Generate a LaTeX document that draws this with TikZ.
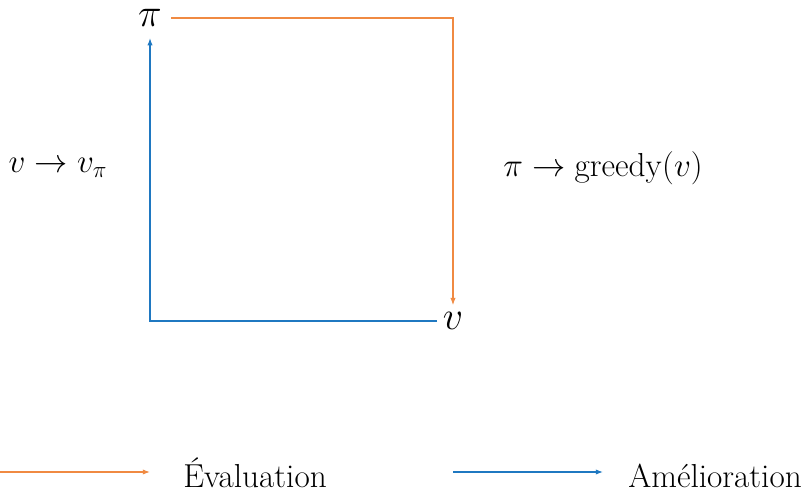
\documentclass[tikz,border=0pt]{standalone}
\usetikzlibrary{arrows.meta}
\definecolor{EvalOrange}{HTML}{F08A42}
\definecolor{AmelBlue}{HTML}{1F78C1}

\tikzset{
  flow/.style={line width=.66pt,-{Latex[length=4.5pt,width=3.3pt]}},
  bigsym/.style={font=\Huge},
  lbl/.style={font=\huge},
}

\begin{document}
\begin{tikzpicture}[x=0.02193cm,y=0.02193cm]
\path[use as bounding box] (0,0) rectangle (806,493);
\node[bigsym] (pi) at (150,475) {$\pi$};
\node[bigsym] (v) at (453,172) {$v$};
\node[lbl] (vlabel) at (58,325) {$v \to v_\pi$};
\node[lbl] (pilabel) at (603,325) {$\pi \to \mathrm{greedy}(v)$};
\draw[flow,EvalOrange,shorten <=2.5pt,shorten >=1pt] (pi.east) -| (v.north);
\draw[flow,AmelBlue,shorten >=3.7pt] (v.west) -| (pi.south);
% legende
\coordinate (evalstart) at (0,21);
\coordinate (evalend) at (150,21);
\node[lbl,anchor=base west,inner xsep=0pt] (evaltext) at (183,5.5) {Évaluation};
\draw[flow,EvalOrange] (evalstart) -- (evalend);
\coordinate (amelstart) at (453,21);
\coordinate (amelend) at (603,21);
\node[lbl,anchor=base west,inner xsep=0pt] (ameltext) at (628,6) {Amélioration};
\draw[flow,AmelBlue] (amelstart) -- (amelend);
\end{tikzpicture}
\end{document}
